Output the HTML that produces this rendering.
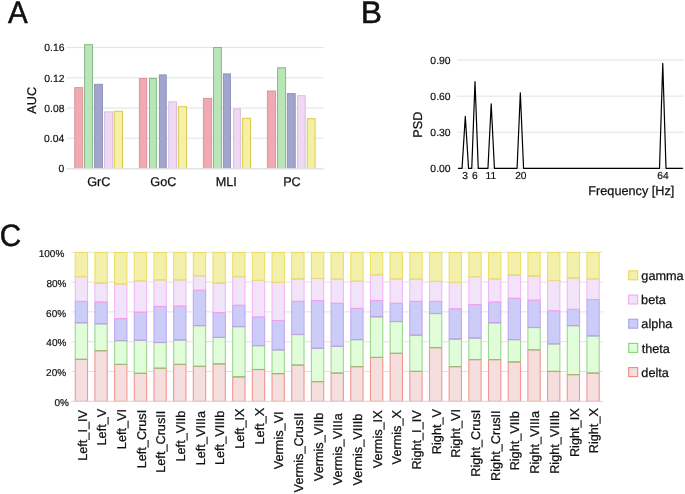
<!DOCTYPE html>
<html><head><meta charset="utf-8"><title>Figure</title>
<style>
html,body{margin:0;padding:0;background:#fff;}
body{width:685px;height:494px;overflow:hidden;}
svg{display:block;font-family:"Liberation Sans", sans-serif;will-change:transform;text-rendering:geometricPrecision;}
svg text{fill:#111;}
</style></head>
<body>
<svg width="685" height="494" viewBox="0 0 685 494">
<defs>
<clipPath id="clipA"><rect x="0" y="0" width="685" height="168.5"/></clipPath>
</defs>
<rect x="0" y="0" width="685" height="494" fill="#fff"/>
<text transform="translate(7.94,22.60) scale(0.9500,1)" font-size="31.2" stroke="#111" stroke-width="0.50">A</text>
<text transform="translate(360.64,22.65) scale(1.0200,1)" font-size="31.2" stroke="#111" stroke-width="0.50">B</text>
<text transform="translate(-0.16,246.30) scale(0.9600,1)" font-size="30.9" stroke="#111" stroke-width="0.50">C</text>
<line x1="66.5" x2="323.5" y1="168.40" y2="168.40" stroke="#e2e2e2" stroke-width="1"/>
<text transform="translate(58.62,172.28)" font-size="10.4" stroke="#111" stroke-width="0.20">0</text>
<line x1="66.5" x2="323.5" y1="138.20" y2="138.20" stroke="#e2e2e2" stroke-width="1"/>
<text transform="translate(44.06,142.08)" font-size="10.4" stroke="#111" stroke-width="0.20">0.04</text>
<line x1="66.5" x2="323.5" y1="108.00" y2="108.00" stroke="#e2e2e2" stroke-width="1"/>
<text transform="translate(44.21,111.88)" font-size="10.4" stroke="#111" stroke-width="0.20">0.08</text>
<line x1="66.5" x2="323.5" y1="77.80" y2="77.80" stroke="#e2e2e2" stroke-width="1"/>
<text transform="translate(44.28,81.68)" font-size="10.4" stroke="#111" stroke-width="0.20">0.12</text>
<line x1="66.5" x2="323.5" y1="47.60" y2="47.60" stroke="#e2e2e2" stroke-width="1"/>
<text transform="translate(44.22,51.48)" font-size="10.4" stroke="#111" stroke-width="0.20">0.16</text>
<text transform="translate(36.25,113.68) rotate(-90)" font-size="12.7" stroke="#111" stroke-width="0.25">AUC</text>
<rect x="74.75" y="87.60" width="7.95" height="84.30" fill="#f2aab2" stroke="#e0939b" stroke-width="1" clip-path="url(#clipA)"/>
<rect x="84.60" y="44.70" width="7.95" height="127.20" fill="#b8e6b8" stroke="#86b886" stroke-width="1" clip-path="url(#clipA)"/>
<rect x="94.60" y="84.30" width="7.80" height="87.60" fill="#a2a6cc" stroke="#8f93bd" stroke-width="1" clip-path="url(#clipA)"/>
<rect x="104.55" y="111.90" width="8.05" height="60.00" fill="#eed8f4" stroke="#d6c0df" stroke-width="1" clip-path="url(#clipA)"/>
<rect x="114.20" y="111.30" width="8.30" height="60.60" fill="#f4f0a6" stroke="#dcc64e" stroke-width="1" clip-path="url(#clipA)"/>
<text transform="translate(87.18,185.65)" font-size="12.7" stroke="#111" stroke-width="0.25">GrC</text>
<rect x="139.40" y="78.50" width="7.30" height="93.40" fill="#f2aab2" stroke="#e0939b" stroke-width="1" clip-path="url(#clipA)"/>
<rect x="149.50" y="78.50" width="6.90" height="93.40" fill="#b8e6b8" stroke="#86b886" stroke-width="1" clip-path="url(#clipA)"/>
<rect x="159.40" y="74.90" width="6.85" height="97.00" fill="#a2a6cc" stroke="#8f93bd" stroke-width="1" clip-path="url(#clipA)"/>
<rect x="168.70" y="101.80" width="7.80" height="70.10" fill="#eed8f4" stroke="#d6c0df" stroke-width="1" clip-path="url(#clipA)"/>
<rect x="178.40" y="106.70" width="8.20" height="65.20" fill="#f4f0a6" stroke="#dcc64e" stroke-width="1" clip-path="url(#clipA)"/>
<text transform="translate(150.27,185.65)" font-size="12.7" stroke="#111" stroke-width="0.25">GoC</text>
<rect x="203.40" y="98.40" width="8.20" height="73.50" fill="#f2aab2" stroke="#e0939b" stroke-width="1" clip-path="url(#clipA)"/>
<rect x="213.50" y="47.50" width="7.90" height="124.40" fill="#b8e6b8" stroke="#86b886" stroke-width="1" clip-path="url(#clipA)"/>
<rect x="223.40" y="73.90" width="7.00" height="98.00" fill="#a2a6cc" stroke="#8f93bd" stroke-width="1" clip-path="url(#clipA)"/>
<rect x="233.65" y="108.80" width="6.75" height="63.10" fill="#eed8f4" stroke="#d6c0df" stroke-width="1" clip-path="url(#clipA)"/>
<rect x="242.60" y="118.30" width="7.90" height="53.60" fill="#f4f0a6" stroke="#dcc64e" stroke-width="1" clip-path="url(#clipA)"/>
<text transform="translate(215.68,185.65)" font-size="12.7" stroke="#111" stroke-width="0.25">MLI</text>
<rect x="267.40" y="91.00" width="8.20" height="80.90" fill="#f2aab2" stroke="#e0939b" stroke-width="1" clip-path="url(#clipA)"/>
<rect x="277.60" y="67.80" width="8.00" height="104.10" fill="#b8e6b8" stroke="#86b886" stroke-width="1" clip-path="url(#clipA)"/>
<rect x="287.40" y="93.60" width="7.80" height="78.30" fill="#a2a6cc" stroke="#8f93bd" stroke-width="1" clip-path="url(#clipA)"/>
<rect x="297.65" y="95.70" width="7.55" height="76.20" fill="#eed8f4" stroke="#d6c0df" stroke-width="1" clip-path="url(#clipA)"/>
<rect x="307.30" y="118.70" width="7.75" height="53.20" fill="#f4f0a6" stroke="#dcc64e" stroke-width="1" clip-path="url(#clipA)"/>
<text transform="translate(283.15,185.65)" font-size="12.7" stroke="#111" stroke-width="0.25">PC</text>
<line x1="66.5" x2="323.5" y1="168.9" y2="168.9" stroke="#e2e2e2" stroke-width="1.1"/>
<line x1="457" x2="684" y1="168.30" y2="168.30" stroke="#e2e2e2" stroke-width="1"/>
<text transform="translate(430.36,172.18)" font-size="10.4" stroke="#111" stroke-width="0.20">0.00</text>
<line x1="457" x2="684" y1="132.23" y2="132.23" stroke="#e2e2e2" stroke-width="1"/>
<text transform="translate(430.36,136.11)" font-size="10.4" stroke="#111" stroke-width="0.20">0.30</text>
<line x1="457" x2="684" y1="96.16" y2="96.16" stroke="#e2e2e2" stroke-width="1"/>
<text transform="translate(430.36,100.04)" font-size="10.4" stroke="#111" stroke-width="0.20">0.60</text>
<line x1="457" x2="684" y1="60.09" y2="60.09" stroke="#e2e2e2" stroke-width="1"/>
<text transform="translate(430.36,63.97)" font-size="10.4" stroke="#111" stroke-width="0.20">0.90</text>
<text transform="translate(422.30,137.67) rotate(-90)" font-size="12.7" stroke="#111" stroke-width="0.25">PSD</text>
<polyline points="458.10,168.30 458.83,168.30 462.06,168.30 465.30,116.40 468.54,168.30 471.77,168.30 475.01,81.49 478.25,168.30 481.49,168.30 484.72,168.30 487.96,168.30 491.20,103.73 494.43,168.30 497.67,168.30 500.91,168.30 504.14,168.30 507.38,168.30 510.62,168.30 513.86,168.30 517.09,168.30 520.33,92.79 523.57,168.30 526.80,168.30 530.04,168.30 533.28,168.30 536.51,168.30 539.75,168.30 542.99,168.30 546.23,168.30 549.46,168.30 552.70,168.30 555.94,168.30 559.17,168.30 562.41,168.30 565.65,168.30 568.88,168.30 572.12,168.30 575.36,168.30 578.60,168.30 581.83,168.30 585.07,168.30 588.31,168.30 591.54,168.30 594.78,168.30 598.02,168.30 601.25,168.30 604.49,168.30 607.73,168.30 610.97,168.30 614.20,168.30 617.44,168.30 620.68,168.30 623.91,168.30 627.15,168.30 630.39,168.30 633.62,168.30 636.86,168.30 640.10,168.30 643.34,168.30 646.57,168.30 649.81,168.30 653.05,168.30 656.28,168.30 659.52,168.30 662.76,63.46 666.00,168.30 669.23,168.30 672.47,168.30 675.71,168.30 678.94,168.30 682.18,168.30 682.90,168.30" fill="none" stroke="#000" stroke-width="1.2" stroke-linejoin="round"/>
<text transform="translate(462.19,178.81)" font-size="10.2" stroke="#111" stroke-width="0.20">3</text>
<text transform="translate(472.03,178.81)" font-size="10.2" stroke="#111" stroke-width="0.20">6</text>
<text transform="translate(485.59,178.81)" font-size="10.2" stroke="#111" stroke-width="0.20">11</text>
<text transform="translate(515.17,178.81)" font-size="10.2" stroke="#111" stroke-width="0.20">20</text>
<text transform="translate(657.32,178.81)" font-size="10.2" stroke="#111" stroke-width="0.20">64</text>
<text transform="translate(588.30,194.90)" font-size="12.7" stroke="#111" stroke-width="0.25">Frequency [Hz]</text>
<line x1="71.6" x2="603" y1="401.35" y2="401.35" stroke="#e2e2e2" stroke-width="1"/>
<line x1="71.6" x2="603" y1="371.53" y2="371.53" stroke="#e2e2e2" stroke-width="1"/>
<line x1="71.6" x2="603" y1="341.71" y2="341.71" stroke="#e2e2e2" stroke-width="1"/>
<line x1="71.6" x2="603" y1="311.89" y2="311.89" stroke="#e2e2e2" stroke-width="1"/>
<line x1="71.6" x2="603" y1="282.07" y2="282.07" stroke="#e2e2e2" stroke-width="1"/>
<line x1="71.6" x2="603" y1="252.25" y2="252.25" stroke="#e2e2e2" stroke-width="1"/>
<text transform="translate(54.41,406.09)" font-size="10.0" stroke="#111" stroke-width="0.20">0%</text>
<text transform="translate(46.10,376.27)" font-size="10.0" stroke="#111" stroke-width="0.20">20%</text>
<text transform="translate(46.37,346.45)" font-size="10.0" stroke="#111" stroke-width="0.20">40%</text>
<text transform="translate(46.09,316.63)" font-size="10.0" stroke="#111" stroke-width="0.20">60%</text>
<text transform="translate(46.47,286.81)" font-size="10.0" stroke="#111" stroke-width="0.20">80%</text>
<text transform="translate(38.74,256.99)" font-size="10.0" stroke="#111" stroke-width="0.20">100%</text>
<rect x="75.25" y="359.30" width="12.30" height="42.05" fill="#f4dede" stroke="#f29690" stroke-width="1.1"/>
<rect x="75.25" y="322.70" width="12.30" height="36.60" fill="#e0fcd8" stroke="#9cd890" stroke-width="1.1"/>
<rect x="75.25" y="301.40" width="12.30" height="21.30" fill="#ccccf8" stroke="#c0a8f2" stroke-width="1.1"/>
<rect x="75.25" y="276.60" width="12.30" height="24.80" fill="#f2e4f8" stroke="#f4b6f8" stroke-width="1.1"/>
<rect x="75.25" y="252.55" width="12.30" height="24.05" fill="#f2f0aa" stroke="#ece064" stroke-width="1.1"/>
<line x1="75.25" x2="87.55" y1="359.30" y2="359.30" stroke="#a9b27a" stroke-width="1.1"/>
<line x1="75.25" x2="87.55" y1="322.70" y2="322.70" stroke="#bea5d8" stroke-width="1.1"/>
<line x1="75.25" x2="87.55" y1="301.40" y2="301.40" stroke="#f0a0f0" stroke-width="1.1"/>
<line x1="75.25" x2="87.55" y1="276.60" y2="276.60" stroke="#ecd882" stroke-width="1.1"/>
<rect x="94.93" y="350.70" width="12.30" height="50.65" fill="#f4dede" stroke="#f29690" stroke-width="1.1"/>
<rect x="94.93" y="323.70" width="12.30" height="27.00" fill="#e0fcd8" stroke="#9cd890" stroke-width="1.1"/>
<rect x="94.93" y="302.10" width="12.30" height="21.60" fill="#ccccf8" stroke="#c0a8f2" stroke-width="1.1"/>
<rect x="94.93" y="283.00" width="12.30" height="19.10" fill="#f2e4f8" stroke="#f4b6f8" stroke-width="1.1"/>
<rect x="94.93" y="252.55" width="12.30" height="30.45" fill="#f2f0aa" stroke="#ece064" stroke-width="1.1"/>
<line x1="94.93" x2="107.23" y1="350.70" y2="350.70" stroke="#a9b27a" stroke-width="1.1"/>
<line x1="94.93" x2="107.23" y1="323.70" y2="323.70" stroke="#bea5d8" stroke-width="1.1"/>
<line x1="94.93" x2="107.23" y1="302.10" y2="302.10" stroke="#f0a0f0" stroke-width="1.1"/>
<line x1="94.93" x2="107.23" y1="283.00" y2="283.00" stroke="#ecd882" stroke-width="1.1"/>
<rect x="114.61" y="364.40" width="12.30" height="36.95" fill="#f4dede" stroke="#f29690" stroke-width="1.1"/>
<rect x="114.61" y="340.60" width="12.30" height="23.80" fill="#e0fcd8" stroke="#9cd890" stroke-width="1.1"/>
<rect x="114.61" y="318.60" width="12.30" height="22.00" fill="#ccccf8" stroke="#c0a8f2" stroke-width="1.1"/>
<rect x="114.61" y="283.90" width="12.30" height="34.70" fill="#f2e4f8" stroke="#f4b6f8" stroke-width="1.1"/>
<rect x="114.61" y="252.55" width="12.30" height="31.35" fill="#f2f0aa" stroke="#ece064" stroke-width="1.1"/>
<line x1="114.61" x2="126.91" y1="364.40" y2="364.40" stroke="#a9b27a" stroke-width="1.1"/>
<line x1="114.61" x2="126.91" y1="340.60" y2="340.60" stroke="#bea5d8" stroke-width="1.1"/>
<line x1="114.61" x2="126.91" y1="318.60" y2="318.60" stroke="#f0a0f0" stroke-width="1.1"/>
<line x1="114.61" x2="126.91" y1="283.90" y2="283.90" stroke="#ecd882" stroke-width="1.1"/>
<rect x="134.29" y="373.30" width="12.30" height="28.05" fill="#f4dede" stroke="#f29690" stroke-width="1.1"/>
<rect x="134.29" y="340.20" width="12.30" height="33.10" fill="#e0fcd8" stroke="#9cd890" stroke-width="1.1"/>
<rect x="134.29" y="312.20" width="12.30" height="28.00" fill="#ccccf8" stroke="#c0a8f2" stroke-width="1.1"/>
<rect x="134.29" y="280.80" width="12.30" height="31.40" fill="#f2e4f8" stroke="#f4b6f8" stroke-width="1.1"/>
<rect x="134.29" y="252.55" width="12.30" height="28.25" fill="#f2f0aa" stroke="#ece064" stroke-width="1.1"/>
<line x1="134.29" x2="146.59" y1="373.30" y2="373.30" stroke="#a9b27a" stroke-width="1.1"/>
<line x1="134.29" x2="146.59" y1="340.20" y2="340.20" stroke="#bea5d8" stroke-width="1.1"/>
<line x1="134.29" x2="146.59" y1="312.20" y2="312.20" stroke="#f0a0f0" stroke-width="1.1"/>
<line x1="134.29" x2="146.59" y1="280.80" y2="280.80" stroke="#ecd882" stroke-width="1.1"/>
<rect x="153.97" y="368.20" width="12.30" height="33.15" fill="#f4dede" stroke="#f29690" stroke-width="1.1"/>
<rect x="153.97" y="342.50" width="12.30" height="25.70" fill="#e0fcd8" stroke="#9cd890" stroke-width="1.1"/>
<rect x="153.97" y="306.50" width="12.30" height="36.00" fill="#ccccf8" stroke="#c0a8f2" stroke-width="1.1"/>
<rect x="153.97" y="279.80" width="12.30" height="26.70" fill="#f2e4f8" stroke="#f4b6f8" stroke-width="1.1"/>
<rect x="153.97" y="252.55" width="12.30" height="27.25" fill="#f2f0aa" stroke="#ece064" stroke-width="1.1"/>
<line x1="153.97" x2="166.27" y1="368.20" y2="368.20" stroke="#a9b27a" stroke-width="1.1"/>
<line x1="153.97" x2="166.27" y1="342.50" y2="342.50" stroke="#bea5d8" stroke-width="1.1"/>
<line x1="153.97" x2="166.27" y1="306.50" y2="306.50" stroke="#f0a0f0" stroke-width="1.1"/>
<line x1="153.97" x2="166.27" y1="279.80" y2="279.80" stroke="#ecd882" stroke-width="1.1"/>
<rect x="173.65" y="364.40" width="12.30" height="36.95" fill="#f4dede" stroke="#f29690" stroke-width="1.1"/>
<rect x="173.65" y="339.90" width="12.30" height="24.50" fill="#e0fcd8" stroke="#9cd890" stroke-width="1.1"/>
<rect x="173.65" y="306.20" width="12.30" height="33.70" fill="#ccccf8" stroke="#c0a8f2" stroke-width="1.1"/>
<rect x="173.65" y="279.80" width="12.30" height="26.40" fill="#f2e4f8" stroke="#f4b6f8" stroke-width="1.1"/>
<rect x="173.65" y="252.55" width="12.30" height="27.25" fill="#f2f0aa" stroke="#ece064" stroke-width="1.1"/>
<line x1="173.65" x2="185.95" y1="364.40" y2="364.40" stroke="#a9b27a" stroke-width="1.1"/>
<line x1="173.65" x2="185.95" y1="339.90" y2="339.90" stroke="#bea5d8" stroke-width="1.1"/>
<line x1="173.65" x2="185.95" y1="306.20" y2="306.20" stroke="#f0a0f0" stroke-width="1.1"/>
<line x1="173.65" x2="185.95" y1="279.80" y2="279.80" stroke="#ecd882" stroke-width="1.1"/>
<rect x="193.33" y="366.30" width="12.30" height="35.05" fill="#f4dede" stroke="#f29690" stroke-width="1.1"/>
<rect x="193.33" y="325.60" width="12.30" height="40.70" fill="#e0fcd8" stroke="#9cd890" stroke-width="1.1"/>
<rect x="193.33" y="290.30" width="12.30" height="35.30" fill="#ccccf8" stroke="#c0a8f2" stroke-width="1.1"/>
<rect x="193.33" y="275.70" width="12.30" height="14.60" fill="#f2e4f8" stroke="#f4b6f8" stroke-width="1.1"/>
<rect x="193.33" y="252.55" width="12.30" height="23.15" fill="#f2f0aa" stroke="#ece064" stroke-width="1.1"/>
<line x1="193.33" x2="205.63" y1="366.30" y2="366.30" stroke="#a9b27a" stroke-width="1.1"/>
<line x1="193.33" x2="205.63" y1="325.60" y2="325.60" stroke="#bea5d8" stroke-width="1.1"/>
<line x1="193.33" x2="205.63" y1="290.30" y2="290.30" stroke="#f0a0f0" stroke-width="1.1"/>
<line x1="193.33" x2="205.63" y1="275.70" y2="275.70" stroke="#ecd882" stroke-width="1.1"/>
<rect x="213.01" y="363.80" width="12.30" height="37.55" fill="#f4dede" stroke="#f29690" stroke-width="1.1"/>
<rect x="213.01" y="337.40" width="12.30" height="26.40" fill="#e0fcd8" stroke="#9cd890" stroke-width="1.1"/>
<rect x="213.01" y="312.60" width="12.30" height="24.80" fill="#ccccf8" stroke="#c0a8f2" stroke-width="1.1"/>
<rect x="213.01" y="283.00" width="12.30" height="29.60" fill="#f2e4f8" stroke="#f4b6f8" stroke-width="1.1"/>
<rect x="213.01" y="252.55" width="12.30" height="30.45" fill="#f2f0aa" stroke="#ece064" stroke-width="1.1"/>
<line x1="213.01" x2="225.31" y1="363.80" y2="363.80" stroke="#a9b27a" stroke-width="1.1"/>
<line x1="213.01" x2="225.31" y1="337.40" y2="337.40" stroke="#bea5d8" stroke-width="1.1"/>
<line x1="213.01" x2="225.31" y1="312.60" y2="312.60" stroke="#f0a0f0" stroke-width="1.1"/>
<line x1="213.01" x2="225.31" y1="283.00" y2="283.00" stroke="#ecd882" stroke-width="1.1"/>
<rect x="232.69" y="376.80" width="12.30" height="24.55" fill="#f4dede" stroke="#f29690" stroke-width="1.1"/>
<rect x="232.69" y="326.60" width="12.30" height="50.20" fill="#e0fcd8" stroke="#9cd890" stroke-width="1.1"/>
<rect x="232.69" y="305.30" width="12.30" height="21.30" fill="#ccccf8" stroke="#c0a8f2" stroke-width="1.1"/>
<rect x="232.69" y="276.60" width="12.30" height="28.70" fill="#f2e4f8" stroke="#f4b6f8" stroke-width="1.1"/>
<rect x="232.69" y="252.55" width="12.30" height="24.05" fill="#f2f0aa" stroke="#ece064" stroke-width="1.1"/>
<line x1="232.69" x2="244.99" y1="376.80" y2="376.80" stroke="#a9b27a" stroke-width="1.1"/>
<line x1="232.69" x2="244.99" y1="326.60" y2="326.60" stroke="#bea5d8" stroke-width="1.1"/>
<line x1="232.69" x2="244.99" y1="305.30" y2="305.30" stroke="#f0a0f0" stroke-width="1.1"/>
<line x1="232.69" x2="244.99" y1="276.60" y2="276.60" stroke="#ecd882" stroke-width="1.1"/>
<rect x="252.37" y="369.50" width="12.30" height="31.85" fill="#f4dede" stroke="#f29690" stroke-width="1.1"/>
<rect x="252.37" y="345.60" width="12.30" height="23.90" fill="#e0fcd8" stroke="#9cd890" stroke-width="1.1"/>
<rect x="252.37" y="317.00" width="12.30" height="28.60" fill="#ccccf8" stroke="#c0a8f2" stroke-width="1.1"/>
<rect x="252.37" y="280.40" width="12.30" height="36.60" fill="#f2e4f8" stroke="#f4b6f8" stroke-width="1.1"/>
<rect x="252.37" y="252.55" width="12.30" height="27.85" fill="#f2f0aa" stroke="#ece064" stroke-width="1.1"/>
<line x1="252.37" x2="264.67" y1="369.50" y2="369.50" stroke="#a9b27a" stroke-width="1.1"/>
<line x1="252.37" x2="264.67" y1="345.60" y2="345.60" stroke="#bea5d8" stroke-width="1.1"/>
<line x1="252.37" x2="264.67" y1="317.00" y2="317.00" stroke="#f0a0f0" stroke-width="1.1"/>
<line x1="252.37" x2="264.67" y1="280.40" y2="280.40" stroke="#ecd882" stroke-width="1.1"/>
<rect x="272.05" y="373.60" width="12.30" height="27.75" fill="#f4dede" stroke="#f29690" stroke-width="1.1"/>
<rect x="272.05" y="349.80" width="12.30" height="23.80" fill="#e0fcd8" stroke="#9cd890" stroke-width="1.1"/>
<rect x="272.05" y="320.50" width="12.30" height="29.30" fill="#ccccf8" stroke="#c0a8f2" stroke-width="1.1"/>
<rect x="272.05" y="282.40" width="12.30" height="38.10" fill="#f2e4f8" stroke="#f4b6f8" stroke-width="1.1"/>
<rect x="272.05" y="252.55" width="12.30" height="29.85" fill="#f2f0aa" stroke="#ece064" stroke-width="1.1"/>
<line x1="272.05" x2="284.35" y1="373.60" y2="373.60" stroke="#a9b27a" stroke-width="1.1"/>
<line x1="272.05" x2="284.35" y1="349.80" y2="349.80" stroke="#bea5d8" stroke-width="1.1"/>
<line x1="272.05" x2="284.35" y1="320.50" y2="320.50" stroke="#f0a0f0" stroke-width="1.1"/>
<line x1="272.05" x2="284.35" y1="282.40" y2="282.40" stroke="#ecd882" stroke-width="1.1"/>
<rect x="291.73" y="365.00" width="12.30" height="36.35" fill="#f4dede" stroke="#f29690" stroke-width="1.1"/>
<rect x="291.73" y="334.50" width="12.30" height="30.50" fill="#e0fcd8" stroke="#9cd890" stroke-width="1.1"/>
<rect x="291.73" y="301.40" width="12.30" height="33.10" fill="#ccccf8" stroke="#c0a8f2" stroke-width="1.1"/>
<rect x="291.73" y="278.90" width="12.30" height="22.50" fill="#f2e4f8" stroke="#f4b6f8" stroke-width="1.1"/>
<rect x="291.73" y="252.55" width="12.30" height="26.35" fill="#f2f0aa" stroke="#ece064" stroke-width="1.1"/>
<line x1="291.73" x2="304.03" y1="365.00" y2="365.00" stroke="#a9b27a" stroke-width="1.1"/>
<line x1="291.73" x2="304.03" y1="334.50" y2="334.50" stroke="#bea5d8" stroke-width="1.1"/>
<line x1="291.73" x2="304.03" y1="301.40" y2="301.40" stroke="#f0a0f0" stroke-width="1.1"/>
<line x1="291.73" x2="304.03" y1="278.90" y2="278.90" stroke="#ecd882" stroke-width="1.1"/>
<rect x="311.41" y="381.60" width="12.30" height="19.75" fill="#f4dede" stroke="#f29690" stroke-width="1.1"/>
<rect x="311.41" y="348.20" width="12.30" height="33.40" fill="#e0fcd8" stroke="#9cd890" stroke-width="1.1"/>
<rect x="311.41" y="300.50" width="12.30" height="47.70" fill="#ccccf8" stroke="#c0a8f2" stroke-width="1.1"/>
<rect x="311.41" y="278.50" width="12.30" height="22.00" fill="#f2e4f8" stroke="#f4b6f8" stroke-width="1.1"/>
<rect x="311.41" y="252.55" width="12.30" height="25.95" fill="#f2f0aa" stroke="#ece064" stroke-width="1.1"/>
<line x1="311.41" x2="323.71" y1="381.60" y2="381.60" stroke="#a9b27a" stroke-width="1.1"/>
<line x1="311.41" x2="323.71" y1="348.20" y2="348.20" stroke="#bea5d8" stroke-width="1.1"/>
<line x1="311.41" x2="323.71" y1="300.50" y2="300.50" stroke="#f0a0f0" stroke-width="1.1"/>
<line x1="311.41" x2="323.71" y1="278.50" y2="278.50" stroke="#ecd882" stroke-width="1.1"/>
<rect x="331.09" y="373.00" width="12.30" height="28.35" fill="#f4dede" stroke="#f29690" stroke-width="1.1"/>
<rect x="331.09" y="346.30" width="12.30" height="26.70" fill="#e0fcd8" stroke="#9cd890" stroke-width="1.1"/>
<rect x="331.09" y="303.30" width="12.30" height="43.00" fill="#ccccf8" stroke="#c0a8f2" stroke-width="1.1"/>
<rect x="331.09" y="279.20" width="12.30" height="24.10" fill="#f2e4f8" stroke="#f4b6f8" stroke-width="1.1"/>
<rect x="331.09" y="252.55" width="12.30" height="26.65" fill="#f2f0aa" stroke="#ece064" stroke-width="1.1"/>
<line x1="331.09" x2="343.39" y1="373.00" y2="373.00" stroke="#a9b27a" stroke-width="1.1"/>
<line x1="331.09" x2="343.39" y1="346.30" y2="346.30" stroke="#bea5d8" stroke-width="1.1"/>
<line x1="331.09" x2="343.39" y1="303.30" y2="303.30" stroke="#f0a0f0" stroke-width="1.1"/>
<line x1="331.09" x2="343.39" y1="279.20" y2="279.20" stroke="#ecd882" stroke-width="1.1"/>
<rect x="350.77" y="366.60" width="12.30" height="34.75" fill="#f4dede" stroke="#f29690" stroke-width="1.1"/>
<rect x="350.77" y="339.60" width="12.30" height="27.00" fill="#e0fcd8" stroke="#9cd890" stroke-width="1.1"/>
<rect x="350.77" y="308.40" width="12.30" height="31.20" fill="#ccccf8" stroke="#c0a8f2" stroke-width="1.1"/>
<rect x="350.77" y="281.10" width="12.30" height="27.30" fill="#f2e4f8" stroke="#f4b6f8" stroke-width="1.1"/>
<rect x="350.77" y="252.55" width="12.30" height="28.55" fill="#f2f0aa" stroke="#ece064" stroke-width="1.1"/>
<line x1="350.77" x2="363.07" y1="366.60" y2="366.60" stroke="#a9b27a" stroke-width="1.1"/>
<line x1="350.77" x2="363.07" y1="339.60" y2="339.60" stroke="#bea5d8" stroke-width="1.1"/>
<line x1="350.77" x2="363.07" y1="308.40" y2="308.40" stroke="#f0a0f0" stroke-width="1.1"/>
<line x1="350.77" x2="363.07" y1="281.10" y2="281.10" stroke="#ecd882" stroke-width="1.1"/>
<rect x="370.45" y="357.40" width="12.30" height="43.95" fill="#f4dede" stroke="#f29690" stroke-width="1.1"/>
<rect x="370.45" y="316.70" width="12.30" height="40.70" fill="#e0fcd8" stroke="#9cd890" stroke-width="1.1"/>
<rect x="370.45" y="300.50" width="12.30" height="16.20" fill="#ccccf8" stroke="#c0a8f2" stroke-width="1.1"/>
<rect x="370.45" y="274.70" width="12.30" height="25.80" fill="#f2e4f8" stroke="#f4b6f8" stroke-width="1.1"/>
<rect x="370.45" y="252.55" width="12.30" height="22.15" fill="#f2f0aa" stroke="#ece064" stroke-width="1.1"/>
<line x1="370.45" x2="382.75" y1="357.40" y2="357.40" stroke="#a9b27a" stroke-width="1.1"/>
<line x1="370.45" x2="382.75" y1="316.70" y2="316.70" stroke="#bea5d8" stroke-width="1.1"/>
<line x1="370.45" x2="382.75" y1="300.50" y2="300.50" stroke="#f0a0f0" stroke-width="1.1"/>
<line x1="370.45" x2="382.75" y1="274.70" y2="274.70" stroke="#ecd882" stroke-width="1.1"/>
<rect x="390.13" y="353.30" width="12.30" height="48.05" fill="#f4dede" stroke="#f29690" stroke-width="1.1"/>
<rect x="390.13" y="321.50" width="12.30" height="31.80" fill="#e0fcd8" stroke="#9cd890" stroke-width="1.1"/>
<rect x="390.13" y="303.30" width="12.30" height="18.20" fill="#ccccf8" stroke="#c0a8f2" stroke-width="1.1"/>
<rect x="390.13" y="278.90" width="12.30" height="24.40" fill="#f2e4f8" stroke="#f4b6f8" stroke-width="1.1"/>
<rect x="390.13" y="252.55" width="12.30" height="26.35" fill="#f2f0aa" stroke="#ece064" stroke-width="1.1"/>
<line x1="390.13" x2="402.43" y1="353.30" y2="353.30" stroke="#a9b27a" stroke-width="1.1"/>
<line x1="390.13" x2="402.43" y1="321.50" y2="321.50" stroke="#bea5d8" stroke-width="1.1"/>
<line x1="390.13" x2="402.43" y1="303.30" y2="303.30" stroke="#f0a0f0" stroke-width="1.1"/>
<line x1="390.13" x2="402.43" y1="278.90" y2="278.90" stroke="#ecd882" stroke-width="1.1"/>
<rect x="409.81" y="371.40" width="12.30" height="29.95" fill="#f4dede" stroke="#f29690" stroke-width="1.1"/>
<rect x="409.81" y="335.10" width="12.30" height="36.30" fill="#e0fcd8" stroke="#9cd890" stroke-width="1.1"/>
<rect x="409.81" y="301.40" width="12.30" height="33.70" fill="#ccccf8" stroke="#c0a8f2" stroke-width="1.1"/>
<rect x="409.81" y="279.20" width="12.30" height="22.20" fill="#f2e4f8" stroke="#f4b6f8" stroke-width="1.1"/>
<rect x="409.81" y="252.55" width="12.30" height="26.65" fill="#f2f0aa" stroke="#ece064" stroke-width="1.1"/>
<line x1="409.81" x2="422.11" y1="371.40" y2="371.40" stroke="#a9b27a" stroke-width="1.1"/>
<line x1="409.81" x2="422.11" y1="335.10" y2="335.10" stroke="#bea5d8" stroke-width="1.1"/>
<line x1="409.81" x2="422.11" y1="301.40" y2="301.40" stroke="#f0a0f0" stroke-width="1.1"/>
<line x1="409.81" x2="422.11" y1="279.20" y2="279.20" stroke="#ecd882" stroke-width="1.1"/>
<rect x="429.49" y="347.60" width="12.30" height="53.75" fill="#f4dede" stroke="#f29690" stroke-width="1.1"/>
<rect x="429.49" y="313.50" width="12.30" height="34.10" fill="#e0fcd8" stroke="#9cd890" stroke-width="1.1"/>
<rect x="429.49" y="301.40" width="12.30" height="12.10" fill="#ccccf8" stroke="#c0a8f2" stroke-width="1.1"/>
<rect x="429.49" y="281.40" width="12.30" height="20.00" fill="#f2e4f8" stroke="#f4b6f8" stroke-width="1.1"/>
<rect x="429.49" y="252.55" width="12.30" height="28.85" fill="#f2f0aa" stroke="#ece064" stroke-width="1.1"/>
<line x1="429.49" x2="441.79" y1="347.60" y2="347.60" stroke="#a9b27a" stroke-width="1.1"/>
<line x1="429.49" x2="441.79" y1="313.50" y2="313.50" stroke="#bea5d8" stroke-width="1.1"/>
<line x1="429.49" x2="441.79" y1="301.40" y2="301.40" stroke="#f0a0f0" stroke-width="1.1"/>
<line x1="429.49" x2="441.79" y1="281.40" y2="281.40" stroke="#ecd882" stroke-width="1.1"/>
<rect x="449.17" y="366.60" width="12.30" height="34.75" fill="#f4dede" stroke="#f29690" stroke-width="1.1"/>
<rect x="449.17" y="339.00" width="12.30" height="27.60" fill="#e0fcd8" stroke="#9cd890" stroke-width="1.1"/>
<rect x="449.17" y="308.80" width="12.30" height="30.20" fill="#ccccf8" stroke="#c0a8f2" stroke-width="1.1"/>
<rect x="449.17" y="282.40" width="12.30" height="26.40" fill="#f2e4f8" stroke="#f4b6f8" stroke-width="1.1"/>
<rect x="449.17" y="252.55" width="12.30" height="29.85" fill="#f2f0aa" stroke="#ece064" stroke-width="1.1"/>
<line x1="449.17" x2="461.47" y1="366.60" y2="366.60" stroke="#a9b27a" stroke-width="1.1"/>
<line x1="449.17" x2="461.47" y1="339.00" y2="339.00" stroke="#bea5d8" stroke-width="1.1"/>
<line x1="449.17" x2="461.47" y1="308.80" y2="308.80" stroke="#f0a0f0" stroke-width="1.1"/>
<line x1="449.17" x2="461.47" y1="282.40" y2="282.40" stroke="#ecd882" stroke-width="1.1"/>
<rect x="468.85" y="359.60" width="12.30" height="41.75" fill="#f4dede" stroke="#f29690" stroke-width="1.1"/>
<rect x="468.85" y="338.00" width="12.30" height="21.60" fill="#e0fcd8" stroke="#9cd890" stroke-width="1.1"/>
<rect x="468.85" y="304.60" width="12.30" height="33.40" fill="#ccccf8" stroke="#c0a8f2" stroke-width="1.1"/>
<rect x="468.85" y="276.60" width="12.30" height="28.00" fill="#f2e4f8" stroke="#f4b6f8" stroke-width="1.1"/>
<rect x="468.85" y="252.55" width="12.30" height="24.05" fill="#f2f0aa" stroke="#ece064" stroke-width="1.1"/>
<line x1="468.85" x2="481.15" y1="359.60" y2="359.60" stroke="#a9b27a" stroke-width="1.1"/>
<line x1="468.85" x2="481.15" y1="338.00" y2="338.00" stroke="#bea5d8" stroke-width="1.1"/>
<line x1="468.85" x2="481.15" y1="304.60" y2="304.60" stroke="#f0a0f0" stroke-width="1.1"/>
<line x1="468.85" x2="481.15" y1="276.60" y2="276.60" stroke="#ecd882" stroke-width="1.1"/>
<rect x="488.53" y="359.60" width="12.30" height="41.75" fill="#f4dede" stroke="#f29690" stroke-width="1.1"/>
<rect x="488.53" y="322.70" width="12.30" height="36.90" fill="#e0fcd8" stroke="#9cd890" stroke-width="1.1"/>
<rect x="488.53" y="302.10" width="12.30" height="20.60" fill="#ccccf8" stroke="#c0a8f2" stroke-width="1.1"/>
<rect x="488.53" y="278.90" width="12.30" height="23.20" fill="#f2e4f8" stroke="#f4b6f8" stroke-width="1.1"/>
<rect x="488.53" y="252.55" width="12.30" height="26.35" fill="#f2f0aa" stroke="#ece064" stroke-width="1.1"/>
<line x1="488.53" x2="500.83" y1="359.60" y2="359.60" stroke="#a9b27a" stroke-width="1.1"/>
<line x1="488.53" x2="500.83" y1="322.70" y2="322.70" stroke="#bea5d8" stroke-width="1.1"/>
<line x1="488.53" x2="500.83" y1="302.10" y2="302.10" stroke="#f0a0f0" stroke-width="1.1"/>
<line x1="488.53" x2="500.83" y1="278.90" y2="278.90" stroke="#ecd882" stroke-width="1.1"/>
<rect x="508.21" y="361.90" width="12.30" height="39.45" fill="#f4dede" stroke="#f29690" stroke-width="1.1"/>
<rect x="508.21" y="339.60" width="12.30" height="22.30" fill="#e0fcd8" stroke="#9cd890" stroke-width="1.1"/>
<rect x="508.21" y="298.30" width="12.30" height="41.30" fill="#ccccf8" stroke="#c0a8f2" stroke-width="1.1"/>
<rect x="508.21" y="275.00" width="12.30" height="23.30" fill="#f2e4f8" stroke="#f4b6f8" stroke-width="1.1"/>
<rect x="508.21" y="252.55" width="12.30" height="22.45" fill="#f2f0aa" stroke="#ece064" stroke-width="1.1"/>
<line x1="508.21" x2="520.51" y1="361.90" y2="361.90" stroke="#a9b27a" stroke-width="1.1"/>
<line x1="508.21" x2="520.51" y1="339.60" y2="339.60" stroke="#bea5d8" stroke-width="1.1"/>
<line x1="508.21" x2="520.51" y1="298.30" y2="298.30" stroke="#f0a0f0" stroke-width="1.1"/>
<line x1="508.21" x2="520.51" y1="275.00" y2="275.00" stroke="#ecd882" stroke-width="1.1"/>
<rect x="527.89" y="349.80" width="12.30" height="51.55" fill="#f4dede" stroke="#f29690" stroke-width="1.1"/>
<rect x="527.89" y="327.50" width="12.30" height="22.30" fill="#e0fcd8" stroke="#9cd890" stroke-width="1.1"/>
<rect x="527.89" y="300.20" width="12.30" height="27.30" fill="#ccccf8" stroke="#c0a8f2" stroke-width="1.1"/>
<rect x="527.89" y="276.00" width="12.30" height="24.20" fill="#f2e4f8" stroke="#f4b6f8" stroke-width="1.1"/>
<rect x="527.89" y="252.55" width="12.30" height="23.45" fill="#f2f0aa" stroke="#ece064" stroke-width="1.1"/>
<line x1="527.89" x2="540.19" y1="349.80" y2="349.80" stroke="#a9b27a" stroke-width="1.1"/>
<line x1="527.89" x2="540.19" y1="327.50" y2="327.50" stroke="#bea5d8" stroke-width="1.1"/>
<line x1="527.89" x2="540.19" y1="300.20" y2="300.20" stroke="#f0a0f0" stroke-width="1.1"/>
<line x1="527.89" x2="540.19" y1="276.00" y2="276.00" stroke="#ecd882" stroke-width="1.1"/>
<rect x="547.57" y="371.40" width="12.30" height="29.95" fill="#f4dede" stroke="#f29690" stroke-width="1.1"/>
<rect x="547.57" y="343.80" width="12.30" height="27.60" fill="#e0fcd8" stroke="#9cd890" stroke-width="1.1"/>
<rect x="547.57" y="310.70" width="12.30" height="33.10" fill="#ccccf8" stroke="#c0a8f2" stroke-width="1.1"/>
<rect x="547.57" y="280.50" width="12.30" height="30.20" fill="#f2e4f8" stroke="#f4b6f8" stroke-width="1.1"/>
<rect x="547.57" y="252.55" width="12.30" height="27.95" fill="#f2f0aa" stroke="#ece064" stroke-width="1.1"/>
<line x1="547.57" x2="559.87" y1="371.40" y2="371.40" stroke="#a9b27a" stroke-width="1.1"/>
<line x1="547.57" x2="559.87" y1="343.80" y2="343.80" stroke="#bea5d8" stroke-width="1.1"/>
<line x1="547.57" x2="559.87" y1="310.70" y2="310.70" stroke="#f0a0f0" stroke-width="1.1"/>
<line x1="547.57" x2="559.87" y1="280.50" y2="280.50" stroke="#ecd882" stroke-width="1.1"/>
<rect x="567.25" y="374.60" width="12.30" height="26.75" fill="#f4dede" stroke="#f29690" stroke-width="1.1"/>
<rect x="567.25" y="325.60" width="12.30" height="49.00" fill="#e0fcd8" stroke="#9cd890" stroke-width="1.1"/>
<rect x="567.25" y="309.40" width="12.30" height="16.20" fill="#ccccf8" stroke="#c0a8f2" stroke-width="1.1"/>
<rect x="567.25" y="277.90" width="12.30" height="31.50" fill="#f2e4f8" stroke="#f4b6f8" stroke-width="1.1"/>
<rect x="567.25" y="252.55" width="12.30" height="25.35" fill="#f2f0aa" stroke="#ece064" stroke-width="1.1"/>
<line x1="567.25" x2="579.55" y1="374.60" y2="374.60" stroke="#a9b27a" stroke-width="1.1"/>
<line x1="567.25" x2="579.55" y1="325.60" y2="325.60" stroke="#bea5d8" stroke-width="1.1"/>
<line x1="567.25" x2="579.55" y1="309.40" y2="309.40" stroke="#f0a0f0" stroke-width="1.1"/>
<line x1="567.25" x2="579.55" y1="277.90" y2="277.90" stroke="#ecd882" stroke-width="1.1"/>
<rect x="586.93" y="373.00" width="12.30" height="28.35" fill="#f4dede" stroke="#f29690" stroke-width="1.1"/>
<rect x="586.93" y="335.80" width="12.30" height="37.20" fill="#e0fcd8" stroke="#9cd890" stroke-width="1.1"/>
<rect x="586.93" y="299.50" width="12.30" height="36.30" fill="#ccccf8" stroke="#c0a8f2" stroke-width="1.1"/>
<rect x="586.93" y="278.90" width="12.30" height="20.60" fill="#f2e4f8" stroke="#f4b6f8" stroke-width="1.1"/>
<rect x="586.93" y="252.55" width="12.30" height="26.35" fill="#f2f0aa" stroke="#ece064" stroke-width="1.1"/>
<line x1="586.93" x2="599.23" y1="373.00" y2="373.00" stroke="#a9b27a" stroke-width="1.1"/>
<line x1="586.93" x2="599.23" y1="335.80" y2="335.80" stroke="#bea5d8" stroke-width="1.1"/>
<line x1="586.93" x2="599.23" y1="299.50" y2="299.50" stroke="#f0a0f0" stroke-width="1.1"/>
<line x1="586.93" x2="599.23" y1="278.90" y2="278.90" stroke="#ecd882" stroke-width="1.1"/>
<line x1="71.6" x2="603" y1="401.35" y2="401.35" stroke="#dadada" stroke-width="1"/>
<text transform="translate(86.50,460.84) rotate(-90)" font-size="12.7" stroke="#111" stroke-width="0.25">Left_I_IV</text>
<text transform="translate(106.18,445.46) rotate(-90)" font-size="12.7" stroke="#111" stroke-width="0.25">Left_V</text>
<text transform="translate(125.86,449.13) rotate(-90)" font-size="12.7" stroke="#111" stroke-width="0.25">Left_VI</text>
<text transform="translate(145.54,468.32) rotate(-90)" font-size="12.7" stroke="#111" stroke-width="0.25">Left_CrusI</text>
<text transform="translate(165.22,472.75) rotate(-90)" font-size="12.7" stroke="#111" stroke-width="0.25">Left_CrusII</text>
<text transform="translate(184.90,461.50) rotate(-90)" font-size="12.7" stroke="#111" stroke-width="0.25">Left_VIIb</text>
<text transform="translate(204.58,465.27) rotate(-90)" font-size="12.7" stroke="#111" stroke-width="0.25">Left_VIIIa</text>
<text transform="translate(224.26,465.03) rotate(-90)" font-size="12.7" stroke="#111" stroke-width="0.25">Left_VIIIb</text>
<text transform="translate(243.94,448.78) rotate(-90)" font-size="12.7" stroke="#111" stroke-width="0.25">Left_IX</text>
<text transform="translate(263.62,444.45) rotate(-90)" font-size="12.7" stroke="#111" stroke-width="0.25">Left_X</text>
<text transform="translate(283.30,469.20) rotate(-90)" font-size="12.7" stroke="#111" stroke-width="0.25">Vermis_VI</text>
<text transform="translate(302.98,492.38) rotate(-90)" font-size="12.7" stroke="#111" stroke-width="0.25">Vermis_CrusII</text>
<text transform="translate(322.66,481.13) rotate(-90)" font-size="12.7" stroke="#111" stroke-width="0.25">Vermis_VIIb</text>
<text transform="translate(342.34,485.20) rotate(-90)" font-size="12.7" stroke="#111" stroke-width="0.25">Vermis_VIIIa</text>
<text transform="translate(362.02,485.56) rotate(-90)" font-size="12.7" stroke="#111" stroke-width="0.25">Vermis_VIIIb</text>
<text transform="translate(381.70,468.21) rotate(-90)" font-size="12.7" stroke="#111" stroke-width="0.25">Vermis_IX</text>
<text transform="translate(401.38,464.38) rotate(-90)" font-size="12.7" stroke="#111" stroke-width="0.25">Vermis_X</text>
<text transform="translate(421.06,469.55) rotate(-90)" font-size="12.7" stroke="#111" stroke-width="0.25">Right_I_IV</text>
<text transform="translate(440.74,454.13) rotate(-90)" font-size="12.7" stroke="#111" stroke-width="0.25">Right_V</text>
<text transform="translate(460.42,457.64) rotate(-90)" font-size="12.7" stroke="#111" stroke-width="0.25">Right_VI</text>
<text transform="translate(480.10,476.68) rotate(-90)" font-size="12.7" stroke="#111" stroke-width="0.25">Right_CrusI</text>
<text transform="translate(499.78,480.91) rotate(-90)" font-size="12.7" stroke="#111" stroke-width="0.25">Right_CrusII</text>
<text transform="translate(519.46,470.37) rotate(-90)" font-size="12.7" stroke="#111" stroke-width="0.25">Right_VIIb</text>
<text transform="translate(539.14,473.63) rotate(-90)" font-size="12.7" stroke="#111" stroke-width="0.25">Right_VIIIa</text>
<text transform="translate(558.82,473.80) rotate(-90)" font-size="12.7" stroke="#111" stroke-width="0.25">Right_VIIIb</text>
<text transform="translate(578.50,457.04) rotate(-90)" font-size="12.7" stroke="#111" stroke-width="0.25">Right_IX</text>
<text transform="translate(598.18,453.22) rotate(-90)" font-size="12.7" stroke="#111" stroke-width="0.25">Right_X</text>
<rect x="628.7" y="270.80" width="9" height="9" fill="#f2f0aa" stroke="#e6d860" stroke-width="1.1"/>
<text transform="translate(641.37,280.00)" font-size="12.7" stroke="#111" stroke-width="0.25">gamma</text>
<rect x="628.7" y="295.00" width="9" height="9" fill="#f2e4f8" stroke="#f0a8f4" stroke-width="1.1"/>
<text transform="translate(641.08,304.20)" font-size="12.7" stroke="#111" stroke-width="0.25">beta</text>
<rect x="628.7" y="319.20" width="9" height="9" fill="#ccccf8" stroke="#aaa2ee" stroke-width="1.1"/>
<text transform="translate(641.36,328.40)" font-size="12.7" stroke="#111" stroke-width="0.25">alpha</text>
<rect x="628.7" y="343.40" width="9" height="9" fill="#e0fcd8" stroke="#88d47a" stroke-width="1.1"/>
<text transform="translate(641.71,352.60)" font-size="12.7" stroke="#111" stroke-width="0.25">theta</text>
<rect x="628.7" y="367.60" width="9" height="9" fill="#f4dede" stroke="#f0887c" stroke-width="1.1"/>
<text transform="translate(641.37,376.80)" font-size="12.7" stroke="#111" stroke-width="0.25">delta</text>
</svg>
</body></html>
